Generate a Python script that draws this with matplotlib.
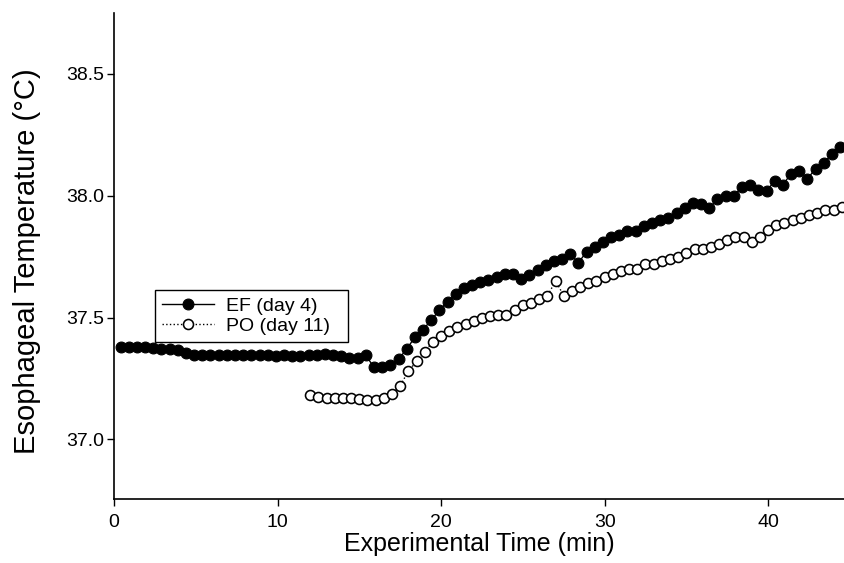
import matplotlib
matplotlib.use("Agg")
import matplotlib.pyplot as plt

plt.rcParams['font.family'] = ['Liberation Sans', 'DejaVu Sans']

# EF (day 4): time (min) and esophageal temperature (°C)
ef_time = [0.4, 0.9, 1.4, 1.9, 2.4, 2.9, 3.4, 3.9, 4.4, 4.9,
           5.4, 5.9, 6.4, 6.9, 7.4, 7.9, 8.4, 8.9, 9.4, 9.9,
           10.4, 10.9, 11.4, 11.9, 12.4, 12.9, 13.4, 13.9, 14.4, 14.9,
           15.4, 15.9, 16.4, 16.9, 17.4, 17.9, 18.4, 18.9, 19.4, 19.9,
           20.4, 20.9, 21.4, 21.9, 22.4, 22.9, 23.4, 23.9, 24.4, 24.9,
           25.4, 25.9, 26.4, 26.9, 27.4, 27.9, 28.4, 28.9, 29.4, 29.9,
           30.4, 30.9, 31.4, 31.9, 32.4, 32.9, 33.4, 33.9, 34.4, 34.9,
           35.4, 35.9, 36.4, 36.9, 37.4, 37.9, 38.4, 38.9, 39.4, 39.9,
           40.4, 40.9, 41.4, 41.9, 42.4, 42.9, 43.4, 43.9, 44.4]
ef_temp = [37.38, 37.38, 37.38, 37.38, 37.375, 37.37, 37.37, 37.365, 37.355, 37.345,
           37.345, 37.345, 37.345, 37.345, 37.345, 37.345, 37.345, 37.345, 37.345, 37.34,
           37.345, 37.34, 37.34, 37.345, 37.345, 37.35, 37.345, 37.34, 37.335, 37.335,
           37.345, 37.295, 37.295, 37.305, 37.33, 37.37, 37.42, 37.45, 37.49, 37.53,
           37.565, 37.595, 37.62, 37.635, 37.645, 37.655, 37.665, 37.68, 37.68, 37.66,
           37.675, 37.695, 37.715, 37.73, 37.74, 37.76, 37.725, 37.77, 37.79, 37.81,
           37.83, 37.84, 37.855, 37.855, 37.875, 37.89, 37.90, 37.91, 37.93, 37.95,
           37.97, 37.965, 37.95, 37.985, 38.00, 38.00, 38.035, 38.045, 38.025, 38.02,
           38.06, 38.045, 38.09, 38.10, 38.07, 38.11, 38.135, 38.17, 38.20]

# PO (day 11)
po_time = [12.0, 12.5, 13.0, 13.5, 14.0, 14.5, 15.0, 15.5, 16.0, 16.5,
           17.0, 17.5, 18.0, 18.5, 19.0, 19.5, 20.0, 20.5, 21.0, 21.5,
           22.0, 22.5, 23.0, 23.5, 24.0, 24.5, 25.0, 25.5, 26.0, 26.5,
           27.0, 27.5, 28.0, 28.5, 29.0, 29.5, 30.0, 30.5, 31.0, 31.5,
           32.0, 32.5, 33.0, 33.5, 34.0, 34.5, 35.0, 35.5, 36.0, 36.5,
           37.0, 37.5, 38.0, 38.5, 39.0, 39.5, 40.0, 40.5, 41.0, 41.5,
           42.0, 42.5, 43.0, 43.5, 44.0, 44.5]
po_temp = [37.18, 37.175, 37.17, 37.17, 37.17, 37.17, 37.165, 37.16, 37.16, 37.17,
           37.185, 37.22, 37.28, 37.32, 37.36, 37.40, 37.425, 37.445, 37.46, 37.475,
           37.485, 37.50, 37.505, 37.51, 37.51, 37.53, 37.55, 37.56, 37.575, 37.588,
           37.65, 37.59, 37.608, 37.627, 37.64, 37.65, 37.667, 37.68, 37.69, 37.70,
           37.70, 37.72, 37.72, 37.73, 37.74, 37.75, 37.765, 37.78, 37.78, 37.79,
           37.80, 37.82, 37.83, 37.83, 37.81, 37.83, 37.86, 37.88, 37.89, 37.90,
           37.91, 37.92, 37.93, 37.94, 37.94, 37.955]

x_ticks = [0, 10, 20, 30, 40]
y_ticks = [37.0, 37.5, 38.0, 38.5]
labels = ["EF (day 4)", "PO (day 11)"]

fig = plt.figure(figsize=(8.45, 5.63), dpi=100)
W, H = 845, 563
ax = fig.add_axes([114 / W, 1 - 499 / H, 731 / W, 486 / H])

ax.plot(ef_time, ef_temp, color='black', linestyle='-', linewidth=1.0,
        marker='o', markersize=7.8, markerfacecolor='black',
        markeredgecolor='black', markeredgewidth=0.8, label=labels[0], zorder=3)
ax.plot(po_time, po_temp, color='black', linestyle=':', linewidth=1.0,
        marker='o', markersize=7.2, markerfacecolor='white',
        markeredgecolor='black', markeredgewidth=1.15, label=labels[1], zorder=2)

ax.set_xlim(0, 44.7)
ax.set_ylim(36.755, 38.75)
ax.set_xticks(x_ticks)
ax.set_xticklabels([str(v) for v in x_ticks])
ax.set_yticks(y_ticks)
ax.set_yticklabels([f"{v:.1f}" for v in y_ticks])

for s in ['top', 'right']:
    ax.spines[s].set_visible(False)
for s in ['left', 'bottom']:
    ax.spines[s].set_linewidth(1.2)
    ax.spines[s].set_color('black')

ax.tick_params(axis='both', direction='out', length=5, width=1.0,
               labelsize=14, colors='black')
ax.tick_params(axis='x', pad=6)
ax.tick_params(axis='y', pad=2)

ax.set_xlabel("Experimental Time (min)", fontsize=18)
ax.set_ylabel("Esophageal Temperature (°C)", fontsize=21)
ax.xaxis.set_label_coords(0.50, -0.068)
ax.yaxis.set_label_coords(-0.100, 0.49)

leg = ax.legend(loc='lower left', bbox_to_anchor=(0.056, 0.323, 0.264, 0.113),
                mode='expand', borderaxespad=0, fontsize=14, frameon=True,
                fancybox=False, framealpha=1, edgecolor='black',
                handlelength=2.7, handletextpad=0.6, labelspacing=0.15,
                borderpad=0.35)
leg.get_frame().set_linewidth(1.0)

fig.savefig("out.png", dpi=100)
